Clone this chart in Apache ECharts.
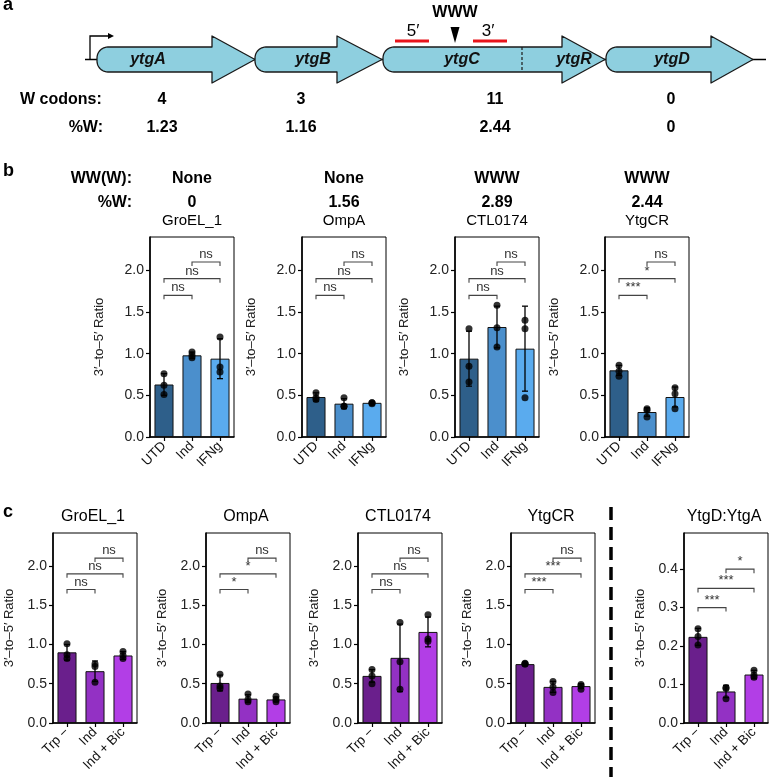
<!DOCTYPE html>
<html><head><meta charset="utf-8">
<script src="https://cdn.jsdelivr.net/npm/echarts@6/dist/echarts.min.js"></script>
<style>html,body{margin:0;padding:0;background:#fff}#c{width:769px;height:777px}</style>
</head><body><div id="c"></div>
<script>
// ---------------- DATA ----------------
// Panel a (operon schematic)
const geneNames = ['ytgA', 'ytgB', 'ytgCR', 'ytgD'];
const geneStart = [97, 255, 383, 606];
const geneHeadStart = [212, 337, 562, 711];
const geneEnd = [255, 382, 605, 753];
const geneLabels = ['ytgA', 'ytgB', 'ytgC', 'ytgR', 'ytgD'];
const ytgCRJunction = 522;
const wCodons = ['4', '3', '11', '0'];
const pctW = ['1.23', '1.16', '2.44', '0'];
const primer5 = [395, 429];
const primer3 = [473, 507];
const wwwSite = 455;

// Panel b
const bCats = ['UTD', 'Ind', 'IFNg'];
const bTitles = ['GroEL_1', 'OmpA', 'CTL0174', 'YtgCR'];
const bMotif = ['None', 'None', 'WWW', 'WWW'];
const bPctW = ['0', '1.56', '2.89', '2.44'];
const bMean = [[0.63, 0.98, 0.94], [0.48, 0.40, 0.41], [0.94, 1.32, 1.06], [0.80, 0.30, 0.48]];
const bSD = [[0.13, 0.04, 0.24], [0.05, 0.06, 0.01], [0.33, 0.25, 0.51], [0.06, 0.05, 0.12]];
const bPts = [
  [[0.76, 0.62, 0.51], [1.02, 0.98, 0.95], [1.20, 0.84, 0.78]],
  [[0.53, 0.47, 0.45], [0.47, 0.37, 0.37], [0.41, 0.41, 0.40]],
  [[1.30, 0.85, 0.66], [1.58, 1.31, 1.08], [1.40, 1.30, 0.47]],
  [[0.86, 0.79, 0.73], [0.34, 0.32, 0.24], [0.59, 0.52, 0.34]]
];
const bSig = [['ns', 'ns', 'ns'], ['ns', 'ns', 'ns'], ['ns', 'ns', 'ns'], ['***', '*', 'ns']];

// Panel c
const cCats = ['Trp −', 'Ind', 'Ind + Bic'];
const cTitles = ['GroEL_1', 'OmpA', 'CTL0174', 'YtgCR', 'YtgD:YtgA'];
const cMean = [[0.90, 0.66, 0.86], [0.51, 0.31, 0.30], [0.60, 0.83, 1.16], [0.75, 0.46, 0.47], [0.224, 0.082, 0.126]];
const cSD = [[0.10, 0.13, 0.05], [0.10, 0.05, 0.03], [0.08, 0.43, 0.19], [0.01, 0.07, 0.03], [0.022, 0.016, 0.011]];
const cPts = [
  [[1.01, 0.87, 0.82], [0.75, 0.72, 0.52], [0.91, 0.86, 0.82]],
  [[0.62, 0.47, 0.44], [0.37, 0.30, 0.27], [0.34, 0.30, 0.27]],
  [[0.68, 0.60, 0.50], [1.28, 0.78, 0.43], [1.38, 1.07, 1.04]],
  [[0.76, 0.75, 0.75], [0.53, 0.46, 0.39], [0.49, 0.47, 0.43]],
  [[0.245, 0.225, 0.203], [0.092, 0.090, 0.063], [0.137, 0.124, 0.119]]
];
const cSig = [['ns', 'ns', 'ns'], ['*', '*', 'ns'], ['ns', 'ns', 'ns'], ['***', '***', 'ns'], ['***', '***', '*']];

const sigPairs = [[0, 1], [0, 2], [1, 2]];
const sigY = [1.7, 1.9, 2.1];
const sigYRatio = [0.30, 0.35, 0.40];
const yTicks = [0, 0.5, 1.0, 1.5, 2.0];
const yTicksRatio = [0, 0.1, 0.2, 0.3, 0.4];

// ---------------- LAYOUT / STYLE ----------------
const FONT = '"Liberation Sans", Arial, Helvetica, sans-serif';
const bColors = ['#2e5f8a', '#4b8fcc', '#5aabee'];
const cColors = ['#6a1f8c', '#9331c4', '#b23ee6'];
const bLefts = [150, 302, 455, 605];
const cLefts = [53, 206, 358, 511, 684];
const PW = 84;

const grids = [], xAxes = [], yAxes = [], series = [], graphics = [];

function txt(x, y, text, font, align, vAlign, fill) {
  graphics.push({ type: 'text', x: x, y: y, z: 100, silent: true,
    style: { text: text, font: font, textAlign: align || 'center', textVerticalAlign: vAlign || 'middle', fill: fill || '#000' } });
}

function addPlot(cfg) {
  const g = grids.length;
  grids.push({ left: cfg.left, top: cfg.top, width: PW, height: cfg.height, show: true, borderColor: '#000', borderWidth: 1 });
  xAxes.push({ type: 'category', gridIndex: g, data: cfg.cats,
    axisLine: { show: true, lineStyle: { color: '#000', width: 1.6 } },
    axisTick: { show: true, alignWithLabel: true, length: 4, lineStyle: { color: '#000', width: 1.2 } },
    axisLabel: { rotate: 45, interval: 0, fontSize: 13.5, color: '#111', fontFamily: FONT, margin: 7 } });
  yAxes.push({ type: 'value', gridIndex: g, min: 0, max: cfg.max, splitLine: { show: false },
    axisLine: { show: true, onZero: false, lineStyle: { color: '#000', width: 1.6 } },
    axisTick: { show: true, length: 4, customValues: cfg.ticks, lineStyle: { color: '#000', width: 1.2 } },
    axisLabel: { customValues: cfg.ticks, fontSize: 14, color: '#222', fontFamily: FONT, margin: 6,
      formatter: v => Number(v).toFixed(1) },
    name: '3′–to–5′ Ratio', nameLocation: 'middle', nameGap: cfg.nameGap,
    nameTextStyle: { fontSize: 13, color: '#222', fontFamily: FONT } });

  series.push({ type: 'bar', xAxisIndex: g, yAxisIndex: g, barWidth: '68%', silent: true,
    data: cfg.mean.map((m, i) => ({ value: m, itemStyle: { color: cfg.colors[i] } })),
    itemStyle: { borderColor: '#111', borderWidth: 1 }, z: 2 });

  series.push({ type: 'custom', xAxisIndex: g, yAxisIndex: g, silent: true, z: 3,
    data: cfg.mean.map((m, i) => [i, m, cfg.sd[i]]),
    renderItem: function (params, api) {
      const i = api.value(0), m = api.value(1), s = api.value(2);
      const p1 = api.coord([i, m - s]), p2 = api.coord([i, m + s]);
      const st = { stroke: '#000', lineWidth: 1.3 };
      return { type: 'group', children: [
        { type: 'line', shape: { x1: p1[0], y1: p1[1], x2: p2[0], y2: p2[1] }, style: st },
        { type: 'line', shape: { x1: p1[0] - 3, y1: p1[1], x2: p1[0] + 3, y2: p1[1] }, style: st },
        { type: 'line', shape: { x1: p2[0] - 3, y1: p2[1], x2: p2[0] + 3, y2: p2[1] }, style: st }
      ] };
    } });

  const pts = [];
  cfg.pts.forEach((arr, i) => arr.forEach(v => pts.push([i, v])));
  series.push({ type: 'scatter', xAxisIndex: g, yAxisIndex: g, silent: true, z: 4,
    symbolSize: 7, itemStyle: { color: '#000' }, data: pts });

  const sig = cfg.sig;
  series.push({ type: 'custom', xAxisIndex: g, yAxisIndex: g, silent: true, z: 3,
    data: sigPairs.map((p, k) => [p[0], p[1], cfg.sigY[k]]),
    renderItem: function (params, api) {
      const a = api.coord([api.value(0), api.value(2)]);
      const b = api.coord([api.value(1), api.value(2)]);
      const label = sig[params.dataIndex];
      return { type: 'group', children: [
        { type: 'polyline', shape: { points: [[a[0], a[1] + 4], [a[0], a[1]], [b[0], b[1]], [b[0], b[1] + 4]] },
          style: { stroke: '#444', lineWidth: 1.1, fill: null } },
        { type: 'text', x: (a[0] + b[0]) / 2, y: a[1] - 1,
          style: { text: label, font: '13px ' + FONT, fill: '#333', textAlign: 'center', textVerticalAlign: 'bottom' } }
      ] };
    } });
}

// Panel b plots
bTitles.forEach((t, k) => {
  addPlot({ left: bLefts[k], top: 237, height: 200, cats: bCats, max: 2.4, ticks: yTicks, nameGap: 44,
    mean: bMean[k], sd: bSD[k], pts: bPts[k], sig: bSig[k], sigY: sigY, colors: bColors });
  const cx = bLefts[k] + PW / 2;
  txt(cx, 179, bMotif[k], 'bold 16px ' + FONT);
  txt(cx, 203, bPctW[k], 'bold 16px ' + FONT);
  txt(cx, 221, t, '15px ' + FONT);
});
txt(132, 179, 'WW(W):', 'bold 16px ' + FONT, 'right');
txt(132, 203, '%W:', 'bold 16px ' + FONT, 'right');

// Panel c plots
cTitles.forEach((t, k) => {
  const ratio = k === 4;
  addPlot({ left: cLefts[k], top: 533, height: 190, cats: cCats, max: ratio ? 0.494 : 2.42,
    ticks: ratio ? yTicksRatio : yTicks, nameGap: 37,
    mean: cMean[k], sd: cSD[k], pts: cPts[k], sig: cSig[k], sigY: ratio ? sigYRatio : sigY, colors: cColors });
  txt(cLefts[k] + PW / 2 - 2, 517, t, '16px ' + FONT);
});

// Panel a schematic on hidden pixel-unit axes
const ga = grids.length;
grids.push({ left: 0, top: 0, width: 769, height: 140, show: false });
xAxes.push({ type: 'value', gridIndex: ga, min: 0, max: 769, show: false });
yAxes.push({ type: 'value', gridIndex: ga, min: 0, max: 140, inverse: true, show: false });
const BODY_T = 47, BODY_B = 72, HEAD_T = 36, HEAD_B = 83, MID = 59.5, R = 11;
series.push({ type: 'custom', xAxisIndex: ga, yAxisIndex: ga, silent: true, z: 5,
  data: geneNames.map((n, i) => [geneStart[i], geneHeadStart[i], geneEnd[i]]),
  renderItem: function (params, api) {
    const x0 = api.value(0), xh = api.value(1), x1 = api.value(2);
    const raw = [[x0 + R, BODY_T], [xh, BODY_T], [xh, HEAD_T], [x1, MID], [xh, HEAD_B], [xh, BODY_B], [x0 + R, BODY_B]];
    for (let k = 0; k <= 10; k++) { const a = Math.PI / 2 + k * Math.PI / 20; raw.push([x0 + R + R * Math.cos(a), BODY_B - R + R * Math.sin(a)]); }
    for (let k = 0; k <= 10; k++) { const a = Math.PI + k * Math.PI / 20; raw.push([x0 + R + R * Math.cos(a), BODY_T + R + R * Math.sin(a)]); }
    const pts = raw.map(p => api.coord(p));
    const children = [{ type: 'polygon', shape: { points: pts }, style: { fill: '#8ecfdf', stroke: '#1a1a1a', lineWidth: 1.3, lineJoin: 'round' } }];
    if (geneNames[params.dataIndex] === 'ytgCR') {
      const t = api.coord([ytgCRJunction, BODY_T]), b = api.coord([ytgCRJunction, BODY_B]);
      children.push({ type: 'line', shape: { x1: t[0], y1: t[1], x2: b[0], y2: b[1] }, style: { stroke: '#1a1a1a', lineWidth: 1.2, lineDash: [3, 2] } });
    }
    return { type: 'group', children: children };
  } });

// backbone & promoter (schematic)
graphics.push({ type: 'line', z: 1, shape: { x1: 85, y1: MID, x2: 766, y2: MID }, style: { stroke: '#000', lineWidth: 1.3 } });
graphics.push({ type: 'polyline', shape: { points: [[90, MID], [90, 36], [109, 36]] }, style: { stroke: '#000', lineWidth: 1.3, fill: null } });
graphics.push({ type: 'polygon', shape: { points: [[114, 36], [108, 33], [108, 39]] }, style: { fill: '#000' } });
// primers
[primer5, primer3].forEach(p => graphics.push({ type: 'line', shape: { x1: p[0], y1: 41, x2: p[1], y2: 41 }, style: { stroke: '#e8141b', lineWidth: 3 } }));
txt((primer5[0] + primer5[1]) / 2 + 1, 31, '5′', '17px ' + FONT);
txt((primer3[0] + primer3[1]) / 2 - 2, 31, '3′', '17px ' + FONT);
graphics.push({ type: 'polygon', shape: { points: [[wwwSite - 4.5, 27], [wwwSite + 4.5, 27], [wwwSite, 43]] }, style: { fill: '#000' } });
txt(wwwSite, 13, 'WWW', 'bold 16px ' + FONT);
// gene labels
const geneLabelX = [148, 313, 462, 574, 672];
geneLabels.forEach((g, i) => txt(geneLabelX[i], 60, g, 'italic bold 16px ' + FONT, 'center', 'middle', '#111'));
// codon rows
const codonX = [162, 301, 495, 671];
txt(20, 100, 'W codons:', 'bold 16px ' + FONT, 'left');
txt(103, 128, '%W:', 'bold 16px ' + FONT, 'right');
wCodons.forEach((v, i) => txt(codonX[i], 100, v, 'bold 16px ' + FONT));
pctW.forEach((v, i) => txt(codonX[i], 128, v, 'bold 16px ' + FONT));

// panel letters
txt(3, 5, 'a', 'bold 18px ' + FONT, 'left');
txt(3, 171, 'b', 'bold 18px ' + FONT, 'left');
txt(3, 512, 'c', 'bold 18px ' + FONT, 'left');

// dashed divider
graphics.push({ type: 'line', shape: { x1: 611, y1: 507, x2: 611, y2: 777 }, style: { stroke: '#000', lineWidth: 3.5, lineDash: [13, 7] } });

const chart = echarts.init(document.getElementById('c'), null, { renderer: 'canvas' });
chart.setOption({
  animation: false,
  backgroundColor: '#fff',
  textStyle: { fontFamily: FONT },
  grid: grids, xAxis: xAxes, yAxis: yAxes, series: series,
  graphic: { z: 100, elements: graphics }
});
</script></body></html>
